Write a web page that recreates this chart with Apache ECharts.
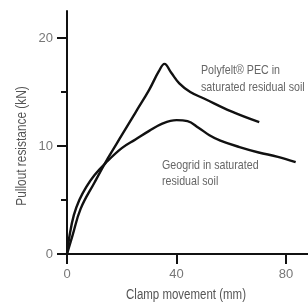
<!DOCTYPE html>
<html>
<head>
<meta charset="utf-8">
<script src="https://cdn.jsdelivr.net/npm/echarts@6/dist/echarts.min.js"></script>
<style>
  html, body { margin: 0; padding: 0; background: #fff; }
  #chart { width: 308px; height: 307px; }
</style>
</head>
<body>
<div id="chart"></div>
<script>
(function () {
    'use strict';

    var FONT = "'Liberation Sans', Arial, sans-serif";
    var NARROW = 0.82; // squeeze text to look like a condensed face

    // Polyfelt PEC in saturated residual soil
    var polyfeltX = [0, 2, 5, 10, 15, 20, 25, 30, 33.5, 35.6, 38, 41, 45, 50, 60, 70.2];
    var polyfeltY = [0, 1.7, 4.2, 6.6, 8.9, 11.0, 13.1, 15.2, 16.9, 17.6, 16.8, 15.8, 15.0, 14.4, 13.2, 12.2];

    // Geogrid in saturated residual soil
    var geogridX = [0, 1, 2.5, 4.5, 7, 10, 14, 20, 25, 30, 35, 40, 44, 48, 52, 56, 63, 70, 77, 83.5];
    var geogridY = [0, 1.8, 3.6, 5.0, 6.2, 7.3, 8.4, 9.8, 10.6, 11.4, 12.1, 12.4, 12.3, 11.7, 11.0, 10.5, 9.9, 9.4, 9.0, 8.5];

    var xTicks = [0, 40, 80];
    var yTicks = [0, 10, 20];
    var yMinorTicks = [5, 15];

    function pairs(xs, ys) {
        return xs.map(function (x, i) { return [x, ys[i]]; });
    }

    function note(text, x, y, size, color, extra) {
        var el = {
            type: 'text',
            x: x,
            y: y,
            scaleX: NARROW,
            style: {
                text: text,
                font: size + 'px ' + FONT,
                fill: color
            }
        };
        for (var k in extra) {
            if (k === 'rotation') el.rotation = extra[k];
            else el.style[k] = extra[k];
        }
        return el;
    }

    var chart = echarts.init(document.getElementById('chart'));

    var lineStyle = { color: '#111', width: 2.4 };

    chart.setOption({
        animation: false,
        grid: { left: 67, right: 0, top: 11, bottom: 53 },
        xAxis: {
            type: 'value',
            min: 0,
            max: 88,
            splitLine: { show: false },
            axisLine: { lineStyle: { color: '#111', width: 2 } },
            axisTick: { customValues: xTicks, length: 10, lineStyle: { color: '#111', width: 2 } },
            axisLabel: { customValues: xTicks, margin: 14, color: '#777', fontFamily: FONT, fontSize: 13 }
        },
        yAxis: [{
            type: 'value',
            min: 0,
            max: 22.5,
            splitLine: { show: false },
            axisLine: { show: true, lineStyle: { color: '#111', width: 2 } },
            axisTick: { show: true, customValues: yTicks, length: 10, lineStyle: { color: '#111', width: 2 } },
            axisLabel: { customValues: yTicks, margin: 14, color: '#777', fontFamily: FONT, fontSize: 13 }
        }, {
            // minor ticks only
            type: 'value',
            position: 'left',
            min: 0,
            max: 22.5,
            splitLine: { show: false },
            axisLine: { show: false },
            axisTick: { show: true, customValues: yMinorTicks, length: 6, lineStyle: { color: '#111', width: 2 } },
            axisLabel: { show: false }
        }],
        graphic: [
            note('Pullout resistance (kN)', 22, 146, 14.5, '#555',
                { rotation: Math.PI / 2, align: 'center', verticalAlign: 'middle' }),
            note('Clamp movement (mm)', 186, 295, 14, '#555',
                { align: 'center', verticalAlign: 'middle' }),
            note('Polyfelt\u00ae PEC in\nsaturated residual soil', 201, 62, 13, '#666',
                { lineHeight: 17, verticalAlign: 'top' }),
            note('Geogrid in saturated\nresidual soil', 162, 157, 13, '#666',
                { lineHeight: 16, verticalAlign: 'top' })
        ],
        series: [{
            name: 'Polyfelt PEC',
            type: 'line',
            data: pairs(polyfeltX, polyfeltY),
            smooth: 0.4,
            showSymbol: false,
            lineStyle: lineStyle
        }, {
            name: 'Geogrid',
            type: 'line',
            data: pairs(geogridX, geogridY),
            smooth: 0.4,
            showSymbol: false,
            lineStyle: lineStyle
        }]
    });
})();
</script>
</body>
</html>
